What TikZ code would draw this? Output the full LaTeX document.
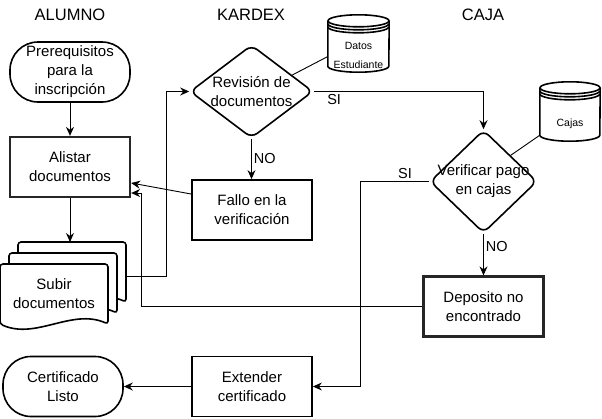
\documentclass[tikz,border=0pt]{standalone}
\usepackage{fontspec}
\setmainfont{Liberation Sans}
\usepackage{tikz}
\usetikzlibrary{calc}
\usetikzlibrary{positioning}
\usetikzlibrary{shapes.geometric}
\usetikzlibrary{arrows.meta}

% tambor de datos alrededor de un nodo
\newcommand{\tambor}[2]{%
	\draw[borde] ([yshift=-6pt]#1.north west) -- ([yshift=6pt]#1.south west)
		arc[start angle=180,end angle=360,x radius=#2,y radius=6pt]
		-- ([yshift=-6pt]#1.north east);
	\draw[borde] ([yshift=-6pt]#1.north) ellipse[x radius=#2,y radius=6pt];
	\foreach \s in {9,12}
		\draw[borde] ([yshift=-\s pt]#1.north west) arc[start angle=180,end angle=360,x radius=#2,y radius=6pt];
}

\begin{document}
\begin{tikzpicture}[
		x=1pt,y=-1pt,
		every node/.style={font=\fontsize{15}{19}\selectfont,align=center},
		titulo/.style={font=\fontsize{16.5}{20}\selectfont},
		terminal/.style={draw,line width=1.6pt,rounded corners=28pt,minimum width=120pt,minimum height=60pt,inner sep=0pt},
		proceso/.style={draw,line width=1.8pt,minimum width=120pt,minimum height=60pt,inner sep=0pt},
		doble/.style={draw=black!85,line width=2.3pt},
		decision/.style={diamond,draw,line width=1.6pt,rounded corners=7pt,inner sep=0pt},
		almacen/.style={inner sep=0pt,minimum width=61pt,minimum height=57pt},
		borde/.style={line width=1.6pt},
		flecha/.style={line width=0.9pt,-{Stealth[length=9pt,width=8pt,inset=3pt]}},
		linea/.style={line width=0.9pt},
		etiqueta/.style={font=\fontsize{14.5}{17}\selectfont,inner sep=2pt}
		]
		\useasboundingbox (0,0) rectangle (602,418);
		\node[titulo] (alumno) at (70,15) {ALUMNO};
		\node[titulo] (kardex) at (251,15) {KARDEX};
		\node[titulo] (caja) at (483,15) {CAJA};
		% alumno
		\node[terminal] (prereq) at (70,72) {Prerequisitos\\para la\\inscripción};
		\node[proceso,doble] (alistar) at (70,167) {Alistar\\documentos};
		\foreach \dx/\dy in {18/22,9/11,0/0}
			\draw[borde,fill=white,rounded corners=3pt,xshift=\dx pt,yshift=\dy pt]
				(108,324) .. controls +(-36pt,16pt) and +(36pt,-16pt) .. (0,324) -- (0,264) -- (108,264) -- cycle;
		\node[minimum width=108pt,minimum height=60pt] (subir) at (54,294) {Subir\\documentos};
		\coordinate (pilatope) at (18,242);
		\coordinate (pilasal) at (126,276);
		\node[terminal] (certificado) at (63,386.5) {Certificado\\Listo};
		% kardex
		\node[decision,minimum width=123pt,minimum height=93pt,
			label={center:Revisión de\\documentos}] (rev) at (251.5,91.5) {};
		\node[proceso] (fallo) at (252,210) {Fallo en la\\verificación};
		\node[proceso] (extender) at (252,386.5) {Extender\\certificado};
		\node[almacen,label={[font=\fontsize{10.5}{19}\selectfont,yshift=-12pt]center:Datos\\Estudiante}] (datos) at (358.5,43.5) {};
		\tambor{datos}{30.5pt}
		% caja
		\node[decision,minimum width=107pt,minimum height=103pt,
			label={center:Verificar pago\\en cajas}] (verif) at (483.5,181.5) {};
		\node[proceso,doble] (deposito) at (483.5,306.5) {Deposito no\\encontrado};
		\node[almacen,minimum width=60pt,minimum height=59pt,label={[font=\fontsize{10.5}{19}\selectfont,yshift=-12pt]center:Cajas}] (cajas) at (570,111.5) {};
		\tambor{cajas}{30pt}
		% conectores
		\draw[flecha] (prereq) -- (alistar);
		\draw[flecha] (alistar.south) -- (alistar.south |- pilatope);
		\draw[flecha] (pilasal) -- ++(40pt,0) |- (rev.west);
		\draw[flecha] (rev.south) -- node[etiqueta,right]{NO} (rev.south |- fallo.north);
		\draw[flecha] ([yshift=16pt]fallo.west) -- ([yshift=-16pt]alistar.east);
		\draw[flecha] (rev.east) -| node[etiqueta,pos=0.06,below]{SI} (verif.north);
		\draw[linea] (rev.22) -- ([yshift=-13pt]datos.west);
		\draw[linea] (verif.north east) -- ([yshift=6pt]cajas.south west);
		\draw[flecha] (verif.south) -- node[etiqueta,right,pos=0.3]{NO} (deposito.north);
		\draw[flecha] (verif.west) -- node[etiqueta,above,pos=0.35]{SI} ++(-69pt,0) |- (extender.east);
		\draw[flecha] (deposito.west) -| ($(alistar.east)+(10pt,-26pt)$) -- ([yshift=-26pt]alistar.east);
		\draw[flecha] (extender) -- (certificado);
	\end{tikzpicture}
\end{document}
